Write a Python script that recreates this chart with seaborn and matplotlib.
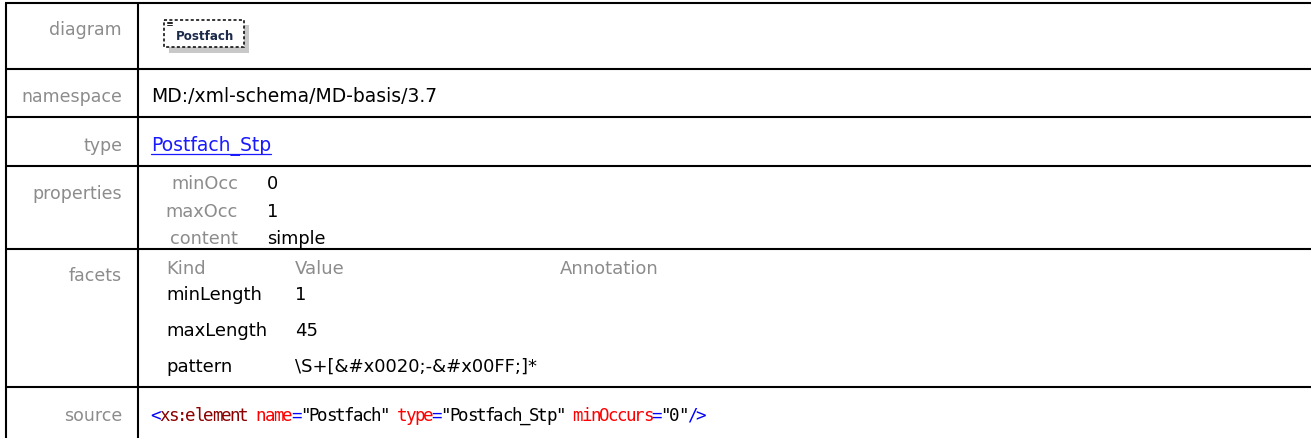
import matplotlib
matplotlib.use("Agg")
import matplotlib.pyplot as plt
import seaborn as sns
from matplotlib.patches import Rectangle

# ---- content ----
row_labels = ["diagram", "namespace", "type", "properties", "facets", "source"]
element_name = "Postfach"
namespace_text = "MD:/xml-schema/MD-basis/3.7"
type_link = "Postfach_Stp"
prop_names = ["minOcc", "maxOcc", "content"]
prop_values = ["0", "1", "simple"]
facet_headers = ["Kind", "Value", "Annotation"]
facet_kinds = ["minLength", "maxLength", "pattern"]
facet_values = ["1", "45", "\\S+[&#x0020;-&#x00FF;]*"]
source_tokens = ["<", "xs:element", " name", "=", '"Postfach"', " type", "=",
                 '"Postfach_Stp"', " minOccurs", "=", '"0"', "/>"]
source_kinds = ["punct", "tag", "attr", "punct", "val", "attr", "punct",
                "val", "attr", "punct", "val", "punct"]

# ---- layout (pixels) ----
W, H = 1311, 438
row_lines = [3, 68.5, 117, 166, 249, 387]
label_base = [35, 102, 151, 199, 281, 421]
col_x = [5.5, 137.5]
text_x = 151
prop_base = [189, 217, 244]
facet_cols = [166, 295, 560]
facet_base = [274, 300, 336, 372]
src_adv = 8.8   # px per character in the source line

gray = "#8c8c8c"
token_colors = {"punct": "#0000ff", "tag": "#8b0000", "attr": "#ff0000", "val": "#000000"}

sns.set_theme(style="white")
plt.rcParams["font.family"] = ["DejaVu Sans"]

fig = plt.figure(figsize=(W / 100, H / 100), dpi=100)
ax = fig.add_axes([0, 0, 1, 1])
ax.set_xlim(0, W)
ax.set_ylim(H, 0)
ax.axis("off")

# grid lines
ax.hlines(row_lines, xmin=col_x[0] - 1, xmax=W, color="black", lw=1.5)
ax.vlines(col_x, ymin=row_lines[0], ymax=H, color="black", lw=1.5)

# row labels
for lab, yb in zip(row_labels, label_base):
    ax.text(122, yb, lab, ha="right", va="baseline", fontsize=12.5, color=gray)

# diagram box
ax.add_patch(Rectangle((169, 25), 80, 28, facecolor="#c8c8c8", edgecolor="none"))
ax.add_patch(Rectangle((164, 20), 80, 27, facecolor="white", edgecolor="black",
                       lw=1.1, linestyle=(0, (2, 1.5))))
for yy in [21.5, 23, 24.5]:
    ax.plot([167, 172], [yy, yy], color="black", lw=0.6)
ax.text(176, 39.5, element_name, fontsize=8.6, fontweight="bold",
        color="#1b2a4a", va="baseline")

# namespace / type
ax.text(text_x, label_base[1], namespace_text, fontsize=13.5, va="baseline", color="black")
link = ax.text(text_x, label_base[2], type_link, fontsize=13.5, va="baseline", color="#1a1aff")

# properties
for name, val, yb in zip(prop_names, prop_values, prop_base):
    ax.text(238, yb, name, ha="right", va="baseline", fontsize=12.8, color=gray)
    ax.text(267, yb, val, va="baseline", fontsize=12.8, color="black")

# facets
for hdr, xx in zip(facet_headers, facet_cols):
    ax.text(xx, facet_base[0], hdr, va="baseline", fontsize=13, color=gray)
for kind, val, yb in zip(facet_kinds, facet_values, facet_base[1:]):
    ax.text(facet_cols[0], yb, kind, va="baseline", fontsize=13, color="black")
    ax.text(facet_cols[1], yb, val, va="baseline", fontsize=13, color="black")

# source line: fixed-pitch, one glyph per cell
pos = 0
for tok, kind in zip(source_tokens, source_kinds):
    for ch in tok:
        if ch != " ":
            ax.text(text_x + (pos + 0.5) * src_adv, label_base[5], ch, fontsize=12.6,
                    family="DejaVu Sans Mono", ha="center", va="baseline",
                    color=token_colors[kind])
        pos += 1

# underline for the link
fig.canvas.draw()
bb = link.get_window_extent(fig.canvas.get_renderer())
ax.plot([text_x, text_x + bb.width], [label_base[2] + 3, label_base[2] + 3],
        color="#1a1aff", lw=0.9)

fig.savefig("out.png", dpi=100)
